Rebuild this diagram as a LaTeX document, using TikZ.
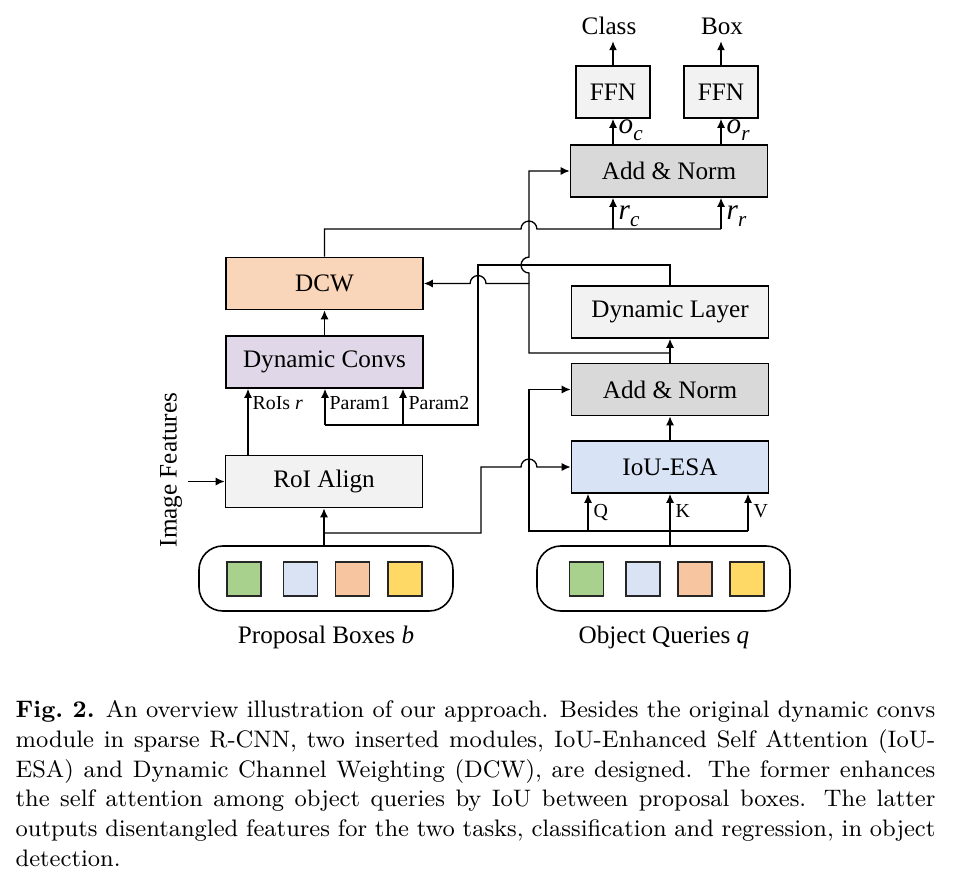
\documentclass[tikz,border=0pt]{standalone}
\usepackage{fontspec}
\newfontfamily\tnr{Liberation Serif}
\usetikzlibrary{arrows.meta}
\definecolor{cLight}{HTML}{F2F2F2}
\definecolor{cAN}{HTML}{D9D9D9}
\definecolor{cDCW}{HTML}{F9D6B9}
\definecolor{cDC}{HTML}{E0D8E8}
\definecolor{cIoU}{HTML}{D8E3F5}
\definecolor{sqG}{HTML}{A9D18E}
\definecolor{sqB}{HTML}{DAE3F3}
\definecolor{sqO}{HTML}{F7C5A0}
\definecolor{sqY}{HTML}{FFD966}
\def\pxu{0.3773pt}
\newcommand{\symlbl}[2]{{\tnr\fontsize{11}{12}\selectfont\itshape #1}\raisebox{-2.6pt}{\tnr\fontsize{8}{9}\selectfont\itshape #2}}
\begin{document}
\begin{tikzpicture}[x=0.3773pt,y=-0.3773pt,
  line width=0.5pt,
  arr/.style={-{Latex[length=3.4pt,width=3pt]}},
  blk/.style={draw, line width=0.6pt, minimum width=197*\pxu, minimum height=52*\pxu, inner sep=0pt, font=\tnr\fontsize{9.5}{11}\selectfont},
  lbl/.style={inner sep=0pt, font=\tnr\fontsize{9.5}{11}\selectfont},
  sm/.style={inner sep=0pt, font=\tnr\fontsize{7.5}{9}\selectfont},
  sym/.style={inner sep=0pt, font=\tnr},
  sq/.style={draw=black!85, line width=0.5pt, minimum size=34*\pxu, inner sep=0pt},
  cont/.style={draw, line width=0.6pt, rounded corners=9pt, minimum height=65*\pxu, inner sep=0pt},
]
\path[use as bounding box, fill=white] (0,0) rectangle (954,874);

% blocks
\node[blk, minimum width=74*\pxu, fill=cLight] (ffnc) at (613,92) {FFN};
\node[blk, minimum width=74*\pxu, fill=cLight] (ffnr) at (721,92) {FFN};
\node[blk, fill=cAN] (an2) at (669,171) {Add \& Norm};
\node[blk, fill=cDCW] (dcw) at (324.5,283.5) {DCW};
\node[blk, fill=cLight] (dl) at (670,312) {Dynamic Layer};
\node[blk, fill=cDC] (dc) at (324.5,362) {Dynamic Convs};
\node[blk, fill=cAN] (an1) at (670,389.5) {Add \& Norm};
\node[blk, fill=cIoU] (iou) at (670,467) {IoU-ESA};
\node[blk, fill=cLight] (roi) at (324,481.5) {RoI Align};

% containers
\node[cont, minimum width=254*\pxu] (pb) at (326,578.5) {};
\node[cont, minimum width=253*\pxu] (oq) at (663.5,578.5) {};
\node[sq, fill=sqG] (pb1) at (244,579) {};
\node[sq, fill=sqB] (pb2) at (300.5,579) {};
\node[sq, fill=sqO] (pb3) at (352.5,579) {};
\node[sq, fill=sqY] (pb4) at (405,579) {};
\node[sq, fill=sqG] (oq1) at (586.5,579) {};
\node[sq, fill=sqB] (oq2) at (643,579) {};
\node[sq, fill=sqO] (oq3) at (695,579) {};
\node[sq, fill=sqY] (oq4) at (747,579) {};

% labels
\node[lbl, anchor=base] (class) at (609,35) {Class};
\node[lbl, anchor=base] (box) at (722,35) {Box};
\node[lbl, anchor=base] (pbl) at (326,643) {Proposal Boxes \textit{b}};
\node[lbl, anchor=base] (oql) at (664,643) {Object Queries \textit{q}};
\node[lbl, rotate=90] (imf) at (171,470) {Image Features};
\node[sym, anchor=base west] (oc) at (618,134) {\symlbl{o}{c}};
\node[sym, anchor=base west] (or) at (726,134) {\symlbl{o}{r}};
\node[sym, anchor=base west] (rcl) at (618,220) {\symlbl{r}{c}};
\node[sym, anchor=base west] (rrl) at (726,220) {\symlbl{r}{r}};
\node[sm, anchor=base west] (roisl) at (252,409) {RoIs \textit{r}};
\node[sm, anchor=base west] (p1l) at (329,409) {Param1};
\node[sm, anchor=base west] (p2l) at (408,409) {Param2};
\node[sm, anchor=base west] (ql) at (593,517) {Q};
\node[sm, anchor=base west] (kl) at (675,517) {K};
\node[sm, anchor=base west] (vl) at (753,517) {V};

% coordinates
\coordinate (rc) at (613,229);
\coordinate (rr) at (721,229);
\coordinate (a1) at (670,353);
\coordinate (p1) at (325,425);
\coordinate (p2) at (403,425);
\coordinate (rx) at (248,455);
\coordinate (b1) at (324,533);
\coordinate (q1) at (588,531);
\coordinate (v1) at (748,531);

% top outputs
\draw[arr] (ffnc.north) -- ++(0,-24);
\draw[arr] (ffnr.north) -- ++(0,-24);
\draw[arr] (an2.north -| ffnc) -- (ffnc.south);
\draw[arr] (an2.north -| ffnr) -- (ffnr.south);

% DCW outputs r_c, r_r
\draw (dcw.north) |- (521,229) arc[start angle=180,end angle=0,radius=3pt] -- (rr);
\draw[arr] (rc) -- (an2.south -| rc);
\draw[arr] (rr) -- (an2.south -| rr);

% upper stack
\draw[arr] (an1.north) -- (dl.south);
\draw[arr] (iou.north) -- (an1.south);
\draw[arr] (a1) -- (529,353) -- (529,273) arc[start angle=270,end angle=90,radius=3pt] -- (529,171) -- (an2.west);
\draw[arr] (529,283.5) -- (486,283.5) arc[start angle=0,end angle=180,radius=3pt] -- (dcw.east);

% dynamic layer to params
\draw (dl.north) |- (478,265) -- (478,425) -- (p1);
\draw[arr] (p1) -- (dc.south -| p1);
\draw[arr] (p2) -- (dc.south -| p2);
\draw[arr] (dc.north) -- (dcw.south);
\draw[arr] (roi.north -| rx) -- (dc.south -| rx);

% image features
\draw[arr] (roi.west) ++(-37,0) -- (roi.west);

% proposal boxes
\draw[arr] (roi.south |- pb.north) -- (roi.south);
\draw[arr] (b1) -- (481,533) -- (481,467) -- (521,467) arc[start angle=180,end angle=0,radius=3pt] -- (iou.west);

% object queries
\draw[arr] (iou.south |- oq.north) -- (iou.south);
\draw[arr] (q1) -- (iou.south -| q1);
\draw[arr] (v1) -- (iou.south -| v1);
\draw[arr] (v1) -- (529,531) -- (529,389.5) -- (an1.west);

% caption
\node[anchor=north west, inner sep=0pt, text width=347pt, align=justify, font=\fontsize{9}{11.2}\selectfont] (cap) at (15,700) {\textbf{Fig.~2.} An overview illustration of our approach. Besides the original dynamic convs\linebreak module in sparse R-CNN, two inserted modules, IoU-Enhanced Self Attention (IoU-\linebreak ESA) and Dynamic Channel Weighting (DCW), are designed. The former enhances\linebreak the self attention among object queries by IoU between proposal boxes. The latter\linebreak outputs disentangled features for the two tasks, classification and regression, in object\linebreak detection.};
\end{tikzpicture}
\end{document}
